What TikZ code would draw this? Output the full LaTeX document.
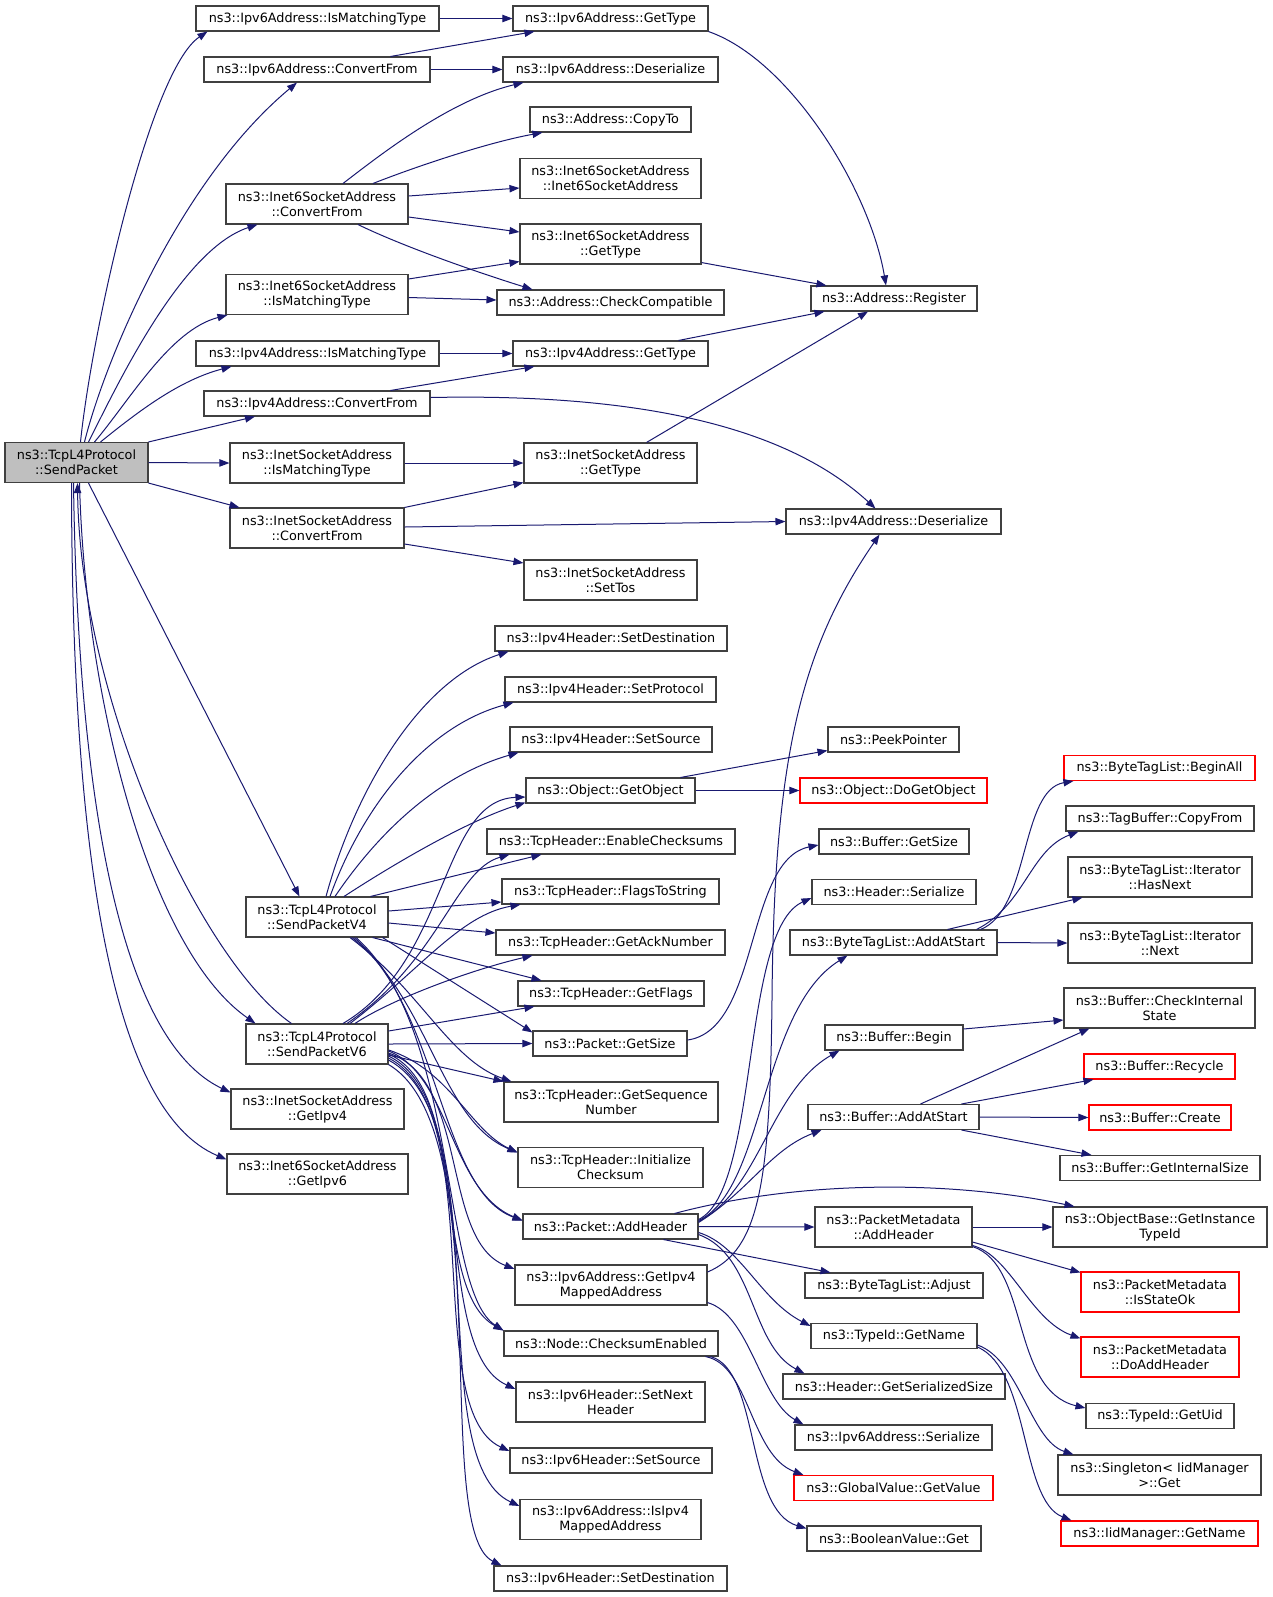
\documentclass[tikz,border=0pt]{standalone}
\usepackage{fontspec}
\setmainfont{DejaVu Sans}
\usetikzlibrary{arrows.meta,calc}
\definecolor{edgeblue}{HTML}{191970}
\definecolor{boxline}{HTML}{404040}
\definecolor{boxred}{HTML}{FF0000}
\definecolor{callergray}{HTML}{BFBFBF}
\tikzset{
    fn/.style={draw=boxline,line width=0.8pt,fill=white,inner sep=0pt,align=center,
        font=\fontsize{9.6}{11.25}\selectfont,minimum height=25*0.75pt},
    two/.style={minimum height=40*0.75pt},
    bw/.style={minimum width=#1*0.75pt},
    redbox/.style={draw=boxred},
    call/.style={draw=edgeblue,line width=0.75pt,-{Triangle[length=7.5pt,width=5.5pt]}}
}
\begin{document}
\begin{tikzpicture}[x=0.75pt,y=0.75pt]
        \useasboundingbox (0,0) rectangle (1272,-1597);

        \node (sp) at (76.5,-462.5)[fn,fill=callergray,bw=143,two]{ns3::TcpL4Protocol\\::SendPacket};

        \node (v6match) at (317.5,-18.5)[fn,bw=243]{ns3::Ipv6Address::IsMatchingType};
        \node (v6conv) at (317,-69.5)[fn,bw=226]{ns3::Ipv6Address::ConvertFrom};
        \node (i6conv) at (317,-204)[fn,bw=182,two]{ns3::Inet6SocketAddress\\::ConvertFrom};
        \node (i6match) at (317,-294.5)[fn,bw=182,two]{ns3::Inet6SocketAddress\\::IsMatchingType};
        \node (v4match) at (317.5,-353.5)[fn,bw=243]{ns3::Ipv4Address::IsMatchingType};
        \node (v4conv) at (317,-403.5)[fn,bw=226]{ns3::Ipv4Address::ConvertFrom};
        \node (i4match) at (317,-463)[fn,bw=174,two]{ns3::InetSocketAddress\\::IsMatchingType};
        \node (i4conv) at (317,-528)[fn,bw=174,two]{ns3::InetSocketAddress\\::ConvertFrom};
        \node (v4send) at (317,-917)[fn,bw=142,two]{ns3::TcpL4Protocol\\::SendPacketV4};
        \node (v6send) at (317,-1044)[fn,bw=142,two]{ns3::TcpL4Protocol\\::SendPacketV6};
        \node (i4getip) at (317.5,-1109)[fn,bw=173,two]{ns3::InetSocketAddress\\::GetIpv4};
        \node (i6getip) at (317.5,-1174)[fn,bw=181,two]{ns3::Inet6SocketAddress\\::GetIpv6};

        \node (v6type) at (610.5,-18.5)[fn,bw=195]{ns3::Ipv6Address::GetType};
        \node (v6deser) at (610.5,-69.5)[fn,bw=215]{ns3::Ipv6Address::Deserialize};
        \node (copyto) at (610.5,-119.5)[fn,bw=161]{ns3::Address::CopyTo};
        \node (i6ctor) at (610.5,-178.5)[fn,bw=181,two]{ns3::Inet6SocketAddress\\::Inet6SocketAddress};
        \node (i6type) at (610.5,-244)[fn,bw=181,two]{ns3::Inet6SocketAddress\\::GetType};
        \node (checkcompat) at (610.5,-302.5)[fn,bw=227]{ns3::Address::CheckCompatible};
        \node (v4type) at (610.5,-353.5)[fn,bw=195]{ns3::Ipv4Address::GetType};
        \node (i4type) at (610.5,-463)[fn,bw=173,two]{ns3::InetSocketAddress\\::GetType};
        \node (settos) at (610.5,-580)[fn,bw=173,two]{ns3::InetSocketAddress\\::SetTos};
        \node (ip4dest) at (611,-638.5)[fn,bw=232]{ns3::Ipv4Header::SetDestination};
        \node (ip4proto) at (610.5,-689.5)[fn,bw=211]{ns3::Ipv4Header::SetProtocol};
        \node (ip4src) at (611,-739.5)[fn,bw=202]{ns3::Ipv4Header::SetSource};
        \node (getobj) at (610.5,-790.5)[fn,bw=169]{ns3::Object::GetObject};
        \node (enablecs) at (611,-841.5)[fn,bw=248]{ns3::TcpHeader::EnableChecksums};
        \node (flags2str) at (610.5,-891.5)[fn,bw=217]{ns3::TcpHeader::FlagsToString};
        \node (getack) at (610.5,-942.5)[fn,bw=229]{ns3::TcpHeader::GetAckNumber};
        \node (getflags) at (611,-993.5)[fn,bw=186]{ns3::TcpHeader::GetFlags};
        \node (pktsize) at (610,-1043.5)[fn,bw=154]{ns3::Packet::GetSize};
        \node (getseq) at (611,-1102)[fn,bw=214,two]{ns3::TcpHeader::GetSequence\\Number};
        \node (initcs) at (610.5,-1167.5)[fn,bw=185,two]{ns3::TcpHeader::Initialize\\Checksum};
        \node (addhdr) at (610.5,-1226.5)[fn,bw=175]{ns3::Packet::AddHeader};
        \node (v4mapped) at (611,-1285)[fn,bw=192,two]{ns3::Ipv6Address::GetIpv4\\MappedAddress};
        \node (cksumen) at (611,-1343.5)[fn,bw=214]{ns3::Node::ChecksumEnabled};
        \node (setnext) at (610.5,-1402)[fn,bw=189,two]{ns3::Ipv6Header::SetNext\\Header};
        \node (ip6src) at (611,-1460.5)[fn,bw=202]{ns3::Ipv6Header::SetSource};
        \node (isv4mapped) at (610.5,-1519.5)[fn,bw=181,two]{ns3::Ipv6Address::IsIpv4\\MappedAddress};
        \node (ip6dest) at (610.5,-1578.5)[fn,bw=233]{ns3::Ipv6Header::SetDestination};

        \node (register) at (894,-298.5)[fn,bw=166]{ns3::Address::Register};
        \node (v4deser) at (893.5,-521.5)[fn,bw=215]{ns3::Ipv4Address::Deserialize};
        \node (peek) at (893.5,-739.5)[fn,bw=131]{ns3::PeekPointer};
        \node (dogetobj) at (893.5,-790.5)[fn,redbox,bw=187]{ns3::Object::DoGetObject};
        \node (bufsize) at (894,-841.5)[fn,bw=150]{ns3::Buffer::GetSize};
        \node (hdrser) at (894,-892)[fn,bw=164]{ns3::Header::Serialize};
        \node (btladd) at (893.5,-942.5)[fn,bw=207]{ns3::ByteTagList::AddAtStart};
        \node (bufbegin) at (894,-1037.5)[fn,bw=138]{ns3::Buffer::Begin};
        \node (bufadd) at (893.5,-1117)[fn,bw=171]{ns3::Buffer::AddAtStart};
        \node (pmadd) at (893.5,-1227)[fn,bw=157,two]{ns3::PacketMetadata\\::AddHeader};
        \node (btladjust) at (894,-1285.5)[fn,bw=178]{ns3::ByteTagList::Adjust};
        \node (tidname) at (894,-1336)[fn,bw=166]{ns3::TypeId::GetName};
        \node (hdrsize) at (894,-1386.5)[fn,bw=222]{ns3::Header::GetSerializedSize};
        \node (v6ser) at (893.5,-1437.5)[fn,bw=197]{ns3::Ipv6Address::Serialize};
        \node (gvget) at (893.5,-1488)[fn,redbox,bw=199]{ns3::GlobalValue::GetValue};
        \node (boolget) at (894,-1538.5)[fn,bw=174]{ns3::BooleanValue::Get};

        \node (beginall) at (1159.5,-768)[fn,redbox,bw=191]{ns3::ByteTagList::BeginAll};
        \node (copyfrom) at (1160,-818.5)[fn,bw=188]{ns3::TagBuffer::CopyFrom};
        \node (hasnext) at (1160,-877)[fn,bw=184,two]{ns3::ByteTagList::Iterator\\::HasNext};
        \node (itnext) at (1160,-943)[fn,bw=184,two]{ns3::ByteTagList::Iterator\\::Next};
        \node (checkint) at (1159.5,-1008)[fn,bw=191,two]{ns3::Buffer::CheckInternal\\State};
        \node (recycle) at (1159.5,-1066.5)[fn,redbox,bw=151]{ns3::Buffer::Recycle};
        \node (create) at (1160,-1117.5)[fn,redbox,bw=142]{ns3::Buffer::Create};
        \node (intsize) at (1160,-1168)[fn,bw=200]{ns3::Buffer::GetInternalSize};
        \node (gettid) at (1160,-1227)[fn,bw=214,two]{ns3::ObjectBase::GetInstance\\TypeId};
        \node (isok) at (1160,-1292)[fn,redbox,bw=158,two]{ns3::PacketMetadata\\::IsStateOk};
        \node (doadd) at (1160,-1357)[fn,redbox,bw=158,two]{ns3::PacketMetadata\\::DoAddHeader};
        \node (getuid) at (1160,-1416)[fn,bw=148]{ns3::TypeId::GetUid};
        \node (singleton) at (1159.5,-1475)[fn,bw=203,two]{ns3::Singleton< IidManager\\>::Get};
        \node (iidname) at (1159.5,-1533.5)[fn,redbox,bw=197]{ns3::IidManager::GetName};

        % SendPacket
        \draw[call] ($(sp.north)+(4,0)$) .. controls (92,-330) and (150,-70) .. ($(v6match.south west)+(12,0)$);
        \draw[call] ($(sp.north)+(8,0)$) .. controls (105,-360) and (180,-180) .. ($(v6conv.south)+(-20,0)$);
        \draw[call] ($(sp.north)+(12,0)$) .. controls (115,-390) and (180,-250) .. ($(i6conv.south west)+(32,0)$);
        \draw[call] ($(sp.north)+(18,0)$) .. controls (130,-400) and (170,-330) .. ($(i6match.south west)+(2,0)$);
        \draw[call] ($(sp.north)+(24,0)$) .. controls (140,-410) and (180,-380) .. ($(v4match.south west)+(36,0)$);
        \draw[call] (sp.north east) -- ($(v4conv.south)+(-62,0)$);
        \draw[call] (sp.east) -- (i4match.west);
        \draw[call] (sp.south east) -- ($(i4conv.north west)+(10,0)$);
        \draw[call] ($(sp.south)+(12,0)$) -- ($(v4send.north west)+(54,0)$);
        \draw[call] ($(sp.south)+(3,0)$) .. controls (85,-700) and (150,-950) .. ($(v6send.north west)+(10,0)$);
        \draw[call] ($(v6send.north west)+(46,0)$) .. controls (200,-960) and (80,-700) .. ($(sp.south)+(1,0)$);
        \draw[call] ($(sp.south)+(-3,0)$) .. controls (78,-800) and (120,-1040) .. ($(i4getip.north west)+(0,-4)$);
        \draw[call] ($(sp.south)+(-5,0)$) .. controls (72,-850) and (110,-1110) .. ($(i6getip.north west)+(0,-6)$);

        % address helpers
        \draw[call] (v6match.east) -- (v6type.west);
        \draw[call] ($(v6conv.north east)+(-40,0)$) -- ($(v6type.south west)+(22,0)$);
        \draw[call] (v6conv.east) -- (v6deser.west);
        \draw[call] (v6type.south east) .. controls (790,-60) and (870,-190) .. ($(register.north)+(-8,0)$);
        \draw[call] ($(i6conv.north)+(26,0)$) .. controls (380,-155) and (450,-100) .. ($(v6deser.south west)+(21,0)$);
        \draw[call] ($(i6conv.north)+(56,0)$) .. controls (420,-165) and (490,-142) .. ($(copyto.south west)+(13,0)$);
        \draw[call] ($(i6conv.east)+(0,8)$) -- ($(i6ctor.west)+(0,-9.5)$);
        \draw[call] ($(i6conv.east)+(0,-13)$) -- ($(i6type.west)+(0,12)$);
        \draw[call] ($(i6conv.south)+(41,0)$) .. controls (400,-245) and (470,-270) .. ($(checkcompat.north west)+(36,0)$);
        \draw[call] ($(i6match.east)+(0,15.5)$) -- ($(i6type.south west)+(0,3)$);
        \draw[call] ($(i6match.east)+(0,-3)$) -- ($(checkcompat.west)+(0,2.5)$);
        \draw[call] ($(i6type.south east)+(0,2)$) -- ($(register.north west)+(16,0)$);
        \draw[call] (v4match.east) -- (v4type.west);
        \draw[call] ($(v4conv.north east)+(-40,0)$) -- ($(v4type.south west)+(22,0)$);
        \draw[call] ($(v4conv.east)+(0,6)$) .. controls (650,-393) and (790,-430) .. ($(v4deser.north)+(-18,0)$);
        \draw[call] ($(v4type.north east)+(-30,0)$) -- ($(register.south west)+(14,0)$);
        \draw[call] (i4match.east) -- (i4type.west);
        \draw[call] ($(i4type.north)+(36,0)$) -- ($(register.south)+(-26,0)$);
        \draw[call] (i4conv.north east) -- ($(i4type.south west)+(0,1)$);
        \draw[call] ($(i4conv.east)+(0,1)$) -- (v4deser.west);
        \draw[call] ($(i4conv.east)+(0,-16)$) -- ($(settos.west)+(0,17)$);

        % SendPacketV4
        \draw[call] ($(v4send.north)+(9,0)$) .. controls (355,-790) and (420,-680) .. ($(ip4dest.south west)+(14,0)$);
        \draw[call] ($(v4send.north)+(13,0)$) .. controls (365,-800) and (430,-725) .. ($(ip4proto.south west)+(9,0)$);
        \draw[call] ($(v4send.north)+(18,0)$) .. controls (380,-830) and (440,-775) .. ($(ip4src.south west)+(9,0)$);
        \draw[call] ($(v4send.north)+(27,0)$) .. controls (400,-860) and (470,-820) .. ($(getobj.south west)+(0,1)$);
        \draw[call] ($(v4send.north east)+(-18,0)$) -- ($(enablecs.south west)+(55,0)$);
        \draw[call] ($(v4send.east)+(0,6)$) -- ($(flags2str.west)+(0,-10.5)$);
        \draw[call] ($(v4send.east)+(0,-6)$) -- ($(getack.west)+(0,9.5)$);
        \draw[call] ($(v4send.south east)+(-16,0)$) -- ($(getflags.north west)+(24,0)$);
        \draw[call] ($(v4send.south east)+(-6,0)$) -- ($(pktsize.north west)+(0,-2)$);
        \draw[call] ($(v4send.south)+(33,0)$) .. controls (420,-990) and (450,-1060) .. ($(getseq.north west)+(8,0)$);
        \draw[call] ($(v4send.south)+(35,0)$) .. controls (430,-1000) and (440,-1120) .. ($(initcs.west)+(0,15)$);
        \draw[call] ($(v4send.south)+(37,0)$) .. controls (440,-1010) and (440,-1190) .. ($(addhdr.west)+(0,6)$);
        \draw[call] ($(v4send.south)+(39,0)$) .. controls (460,-1030) and (440,-1290) .. (cksumen.north west);

        % SendPacketV6
        \draw[call] ($(v6send.north)+(26,0)$) .. controls (450,-960) and (440,-800) .. ($(getobj.west)+(0,-6.5)$);
        \draw[call] ($(v6send.north)+(30,0)$) .. controls (440,-960) and (455,-870) .. ($(enablecs.south west)+(23,0)$);
        \draw[call] ($(v6send.north)+(33,0)$) .. controls (420,-970) and (460,-915) .. ($(flags2str.south west)+(19,0)$);
        \draw[call] ($(v6send.north)+(38,0)$) .. controls (390,-1000) and (470,-970) .. ($(getack.south west)+(37,0)$);
        \draw[call] ($(v6send.east)+(0,13)$) -- ($(getflags.south west)+(17,0)$);
        \draw[call] (v6send.east) -- (pktsize.west);
        \draw[call] ($(v6send.east)+(0,-11)$) -- (getseq.north west);
        \draw[call] ($(v6send.east)+(0,-6)$) .. controls (450,-1070) and (470,-1130) .. ($(initcs.west)+(0,15)$);
        \draw[call] ($(v6send.east)+(0,-7)$) .. controls (450,-1075) and (450,-1190) .. ($(addhdr.west)+(0,6)$);
        \draw[call] ($(v6send.east)+(0,-9)$) .. controls (470,-1080) and (440,-1240) .. ($(v4mapped.west)+(0,16)$);
        \draw[call] ($(v6send.east)+(0,-10)$) .. controls (470,-1090) and (430,-1290) .. (cksumen.north west);
        \draw[call] ($(v6send.east)+(0,-12)$) .. controls (480,-1100) and (430,-1350) .. ($(setnext.west)+(0,13)$);
        \draw[call] ($(v6send.east)+(0,-14)$) .. controls (490,-1110) and (420,-1410) .. ($(ip6src.west)+(0,9.5)$);
        \draw[call] ($(v6send.east)+(0,-16)$) .. controls (500,-1120) and (420,-1460) .. ($(isv4mapped.west)+(0,13.5)$);
        \draw[call] (v6send.south east) .. controls (500,-1130) and (430,-1530) .. ($(ip6dest.north west)+(8,0)$);

        % third rank
        \draw[call] ($(getobj.north east)+(-15,0)$) -- ($(peek.south west)+(0,2)$);
        \draw[call] (getobj.east) -- (dogetobj.west);
        \draw[call] ($(pktsize.east)+(0,3.5)$) .. controls (760,-1030) and (745,-860) .. ($(bufsize.west)+(0,-3.5)$);
        \draw[call] ($(addhdr.east)+(0,7)$) .. controls (760,-1190) and (740,-930) .. ($(hdrser.west)+(0,-6)$);
        \draw[call] ($(addhdr.east)+(0,6)$) .. controls (765,-1190) and (760,-1010) .. ($(btladd.south west)+(58,0)$);
        \draw[call] ($(addhdr.east)+(0,5)$) .. controls (760,-1190) and (770,-1090) .. ($(bufbegin.south west)+(15,0)$);
        \draw[call] ($(addhdr.east)+(0,4)$) .. controls (750,-1190) and (770,-1150) .. ($(bufadd.south west)+(14,0)$);
        \draw[call] ($(addhdr.north east)+(-24,0)$) .. controls (800,-1180) and (950,-1180) .. ($(gettid.north west)+(22,0)$);
        \draw[call] (addhdr.east) -- (pmadd.west);
        \draw[call] ($(addhdr.south east)+(-35,0)$) -- ($(btladjust.north west)+(26,0)$);
        \draw[call] ($(addhdr.east)+(0,-6)$) .. controls (740,-1245) and (760,-1300) .. ($(tidname.north west)+(0,-3)$);
        \draw[call] ($(addhdr.east)+(0,-8)$) .. controls (755,-1255) and (750,-1345) .. ($(hdrsize.north west)+(22,0)$);
        \draw[call] ($(v4mapped.east)+(0,13)$) .. controls (760,-1250) and (770,-1180) .. (772,-1000)
            .. controls (774,-760) and (800,-650) .. ($(v4deser.south)+(-14,0)$);
        \draw[call] ($(v4mapped.south east)+(0,3)$) .. controls (750,-1315) and (760,-1400) .. ($(v6ser.north west)+(9,0)$);
        \draw[call] ($(cksumen.south east)+(-13,0)$) .. controls (750,-1365) and (750,-1455) .. ($(gvget.north west)+(10,0)$);
        \draw[call] ($(cksumen.south east)+(-8,0)$) .. controls (760,-1370) and (745,-1510) .. ($(boolget.north west)+(0,-3)$);

        % fourth rank
        \draw[call] ($(btladd.north east)+(-17,0)$) .. controls (1030,-910) and (1020,-790) .. ($(beginall.south west)+(10,0)$);
        \draw[call] ($(btladd.north east)+(-21,0)$) .. controls (1025,-905) and (1030,-850) .. ($(copyfrom.south west)+(13,0)$);
        \draw[call] ($(btladd.north east)+(-50,0)$) -- ($(hasnext.south west)+(15,0)$);
        \draw[call] (btladd.east) -- (itnext.west);
        \draw[call] ($(bufbegin.east)+(0,8.5)$) -- ($(checkint.west)+(0,-12)$);
        \draw[call] ($(bufadd.north)+(27,0)$) -- ($(checkint.south west)+(26,0)$);
        \draw[call] ($(bufadd.north east)+(-18,0)$) -- ($(recycle.south west)+(10,0)$);
        \draw[call] (bufadd.east) -- (create.west);
        \draw[call] ($(bufadd.south east)+(-18,0)$) -- ($(intsize.north west)+(32,0)$);
        \draw[call] (pmadd.east) -- (gettid.west);
        \draw[call] ($(pmadd.east)+(0,-15)$) -- ($(isok.north west)+(0,-1)$);
        \draw[call] ($(pmadd.south east)+(0,2)$) .. controls (1010,-1255) and (1030,-1320) .. ($(doadd.north west)+(0,-2)$);
        \draw[call] ($(pmadd.south east)+(0,1)$) .. controls (1030,-1265) and (1010,-1390) .. ($(getuid.west)+(0,8)$);
        \draw[call] ($(tidname.east)+(0,-9)$) .. controls (1020,-1360) and (1030,-1440) .. ($(singleton.north west)+(16,0)$);
        \draw[call] ($(tidname.east)+(0,-11)$) .. controls (1030,-1370) and (1020,-1500) .. ($(iidname.north west)+(11,0)$);
    \end{tikzpicture}
\end{document}
